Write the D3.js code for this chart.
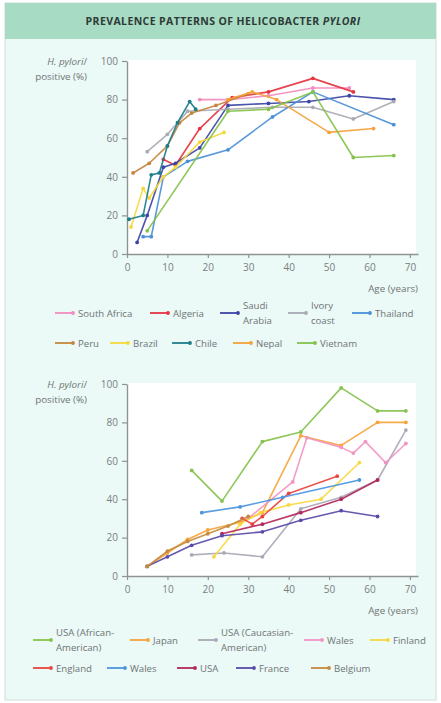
<!DOCTYPE html>
<html>
<head>
<meta charset="utf-8">
<script src="https://cdn.jsdelivr.net/npm/d3@7"></script>
<style>
  html, body { margin: 0; padding: 0; background: #ffffff; }
  svg { display: block; }
  text { font-family: "Open Sans", "Noto Sans", sans-serif; }
</style>
</head>
<body>
<svg id="chart" width="441" height="703"></svg>
<script>
// ---- Panel 1: prevalence by age, developing countries ----
const countries1 = ["South Africa", "Algeria", "Saudi Arabia", "Ivory coast", "Thailand",
                    "Peru", "Brazil", "Chile", "Nepal", "Vietnam"];
const southAfrica = [[18, 80], [25, 80], [35, 82], [46, 86], [55, 86]];
const algeria     = [[9, 49], [12, 46], [18, 65], [26, 81], [35, 84], [46, 91], [56, 84]];
const saudiArabia = [[2.5, 6], [5, 20], [9, 45], [12, 47], [18, 55], [25, 77], [35, 78], [45, 79], [55, 82], [66, 80]];
const ivoryCoast  = [[5, 53], [10, 62], [15, 74], [25, 75], [36, 76], [46, 76], [56, 70], [66, 79]];
const thailand    = [[4, 9], [6, 9], [9, 40], [15, 48], [25, 54], [36, 71], [46, 84], [66, 67]];
const peru        = [[1.5, 42], [5.5, 47], [10, 56], [13, 68], [16, 73], [22, 77], [30, 83]];
const brazil      = [[1, 14], [4, 34], [5.5, 29], [9, 40], [12, 45], [18, 58], [24, 63]];
const chile       = [[0.5, 18], [4, 20], [6, 41], [8, 42], [10, 56], [12.5, 68], [15.5, 79], [17, 75]];
const nepal       = [[25, 80], [31, 84], [37, 80], [50, 63], [61, 65]];
const vietnam     = [[5, 12], [25, 74], [35, 75], [46, 84], [56, 50], [66, 51]];

// ---- Panel 2: prevalence by age, developed countries ----
const countries2 = ["USA (African-American)", "Japan", "USA (Caucasian-American)", "Wales", "Finland",
                    "England", "Wales", "USA", "France", "Belgium"];
const usaAfrican   = [[16, 55], [23.5, 39], [33.5, 70], [43, 75], [53, 98], [62, 86], [69, 86]];
const japan        = [[5, 5], [10, 12], [15, 19], [20, 24], [28, 28], [33.5, 33], [43, 73], [53, 68], [62, 80], [69, 80]];
const usaCaucasian = [[16, 11], [24, 12], [33.5, 10], [43, 35], [53, 41], [62, 50], [69, 76]];
const walesA       = [[30, 30], [41, 49], [44.5, 72], [53, 67], [56, 64], [59, 70], [64, 59], [69, 69]];
const finland      = [[21.5, 10], [28, 27], [33, 33], [40, 37], [48, 40], [57.5, 59]];
const england      = [[28.5, 30], [31, 27], [33.5, 31], [40, 43], [52, 52]];
const walesB       = [[18.5, 33], [28, 36], [38.5, 41], [57.5, 50]];
const usa          = [[23.5, 22], [33.5, 27], [43, 33], [53, 40], [62, 50]];
const france       = [[5, 5], [10, 10], [16, 16], [23.5, 21], [33.5, 23], [43, 29], [53, 34], [62, 31]];
const belgium      = [[5, 5], [10, 13], [15, 18], [20, 22], [25, 26], [30, 31]];

// Axis ticks
const ageTicks = [0, 10, 20, 30, 40, 50, 60, 70];
const pctTicks = [0, 20, 40, 60, 80, 100];

// Series styling
const colors1 = ["#f28cbc", "#e5343f", "#3c45a6", "#a9a9b3", "#4a8fd8",
                 "#c4863e", "#f6d83a", "#1d7d8a", "#f5a23a", "#84c24a"];
const colors2 = ["#86c24c", "#f5a33a", "#aaa8b6", "#f294c2", "#f8d83c",
                 "#e9443f", "#4d95dd", "#b3285c", "#5a4aa8", "#c68a3e"];
const series1 = [southAfrica, algeria, saudiArabia, ivoryCoast, thailand, peru, brazil, chile, nepal, vietnam];
const series2 = [usaAfrican, japan, usaCaucasian, walesA, finland, england, walesB, usa, france, belgium];

const svg = d3.select("#chart");
const textGrey = "#6f7575";

// Panel background and header band
svg.append("rect").attr("x", 5).attr("y", 3).attr("width", 431).attr("height", 697)
  .attr("fill", "#ebf9f7").attr("stroke", "#cfdcdb").attr("stroke-width", 1);
svg.append("rect").attr("x", 5).attr("y", 3).attr("width", 431).attr("height", 36)
  .attr("fill", "#a7dbc3");
const title = svg.append("text").attr("x", 223).attr("y", 25).attr("text-anchor", "middle")
  .attr("font-size", 10.5).attr("font-weight", 700).attr("letter-spacing", 0.4).attr("fill", "#2e3a36");
title.append("tspan").text("PREVALENCE PATTERNS OF HELICOBACTER ");
title.append("tspan").attr("font-style", "italic").text("PYLORI");

function drawPanel(opts) {
  const x = d3.scaleLinear().domain([0, 72]).range([127, 418]);
  const y = d3.scaleLinear().domain([0, 100]).range([opts.bottom, opts.top]);
  const g = svg.append("g");

  g.append("rect").attr("x", x(0)).attr("y", y(100) - 1)
    .attr("width", x(71.5) - x(0)).attr("height", y(0) - y(100) + 1).attr("fill", "#ffffff");

  const xAxis = g.append("g").attr("transform", `translate(0,${y(0)})`)
    .call(d3.axisBottom(x).tickValues(ageTicks).tickSize(4).tickPadding(6).tickSizeOuter(0));
  const yAxis = g.append("g").attr("transform", `translate(${x(0)},0)`)
    .call(d3.axisLeft(y).tickValues(pctTicks).tickSize(5).tickPadding(4).tickSizeOuter(0));
  [xAxis, yAxis].forEach(a => {
    a.select(".domain").attr("stroke", "#8e9494").attr("stroke-width", 1.4);
    a.selectAll(".tick line").attr("stroke", "#8e9494").attr("stroke-width", 1.2);
    a.selectAll(".tick text").attr("fill", "#7a8080").attr("font-size", 10)
      .attr("font-family", "Open Sans, sans-serif");
  });

  const yt = g.append("text").attr("text-anchor", "end").attr("font-size", 9.8).attr("fill", textGrey);
  yt.append("tspan").attr("x", 87).attr("y", opts.top + 4).attr("font-style", "italic").text("H. pylori");
  yt.append("tspan").text("/");
  yt.append("tspan").attr("x", 87).attr("y", opts.top + 19).text("positive (%)");

  g.append("text").attr("x", 418).attr("y", opts.bottom + 38).attr("text-anchor", "end")
    .attr("font-size", 9.8).attr("fill", textGrey).text("Age (years)");

  const line = d3.line().x(d => x(d[0])).y(d => y(d[1]));
  opts.series.forEach((s, i) => {
    const c = opts.colors[i];
    g.append("path").datum(s).attr("d", line).attr("fill", "none")
      .attr("stroke", c).attr("stroke-width", 1.6).attr("stroke-linejoin", "round").attr("opacity", 0.92);
    g.selectAll(null).data(s).enter().append("circle")
      .attr("cx", d => x(d[0])).attr("cy", d => y(d[1])).attr("r", 1.9).attr("fill", c);
  });

  // Legend
  opts.legend.forEach((item, i) => {
    const c = opts.colors[i];
    const lg = g.append("g");
    lg.append("line").attr("x1", item.x).attr("x2", item.x + 19).attr("y1", item.y).attr("y2", item.y)
      .attr("stroke", c).attr("stroke-width", 1.8);
    lg.append("circle").attr("cx", item.x + 18).attr("cy", item.y).attr("r", 1.9).attr("fill", c);
    const lines = item.label;
    const t = lg.append("text").attr("font-size", 9.6).attr("fill", textGrey);
    lines.forEach((ln, k) => {
      t.append("tspan").attr("x", item.x + 23)
        .attr("y", item.y + 3.5 + (k - (lines.length - 1) / 2) * 15).text(ln);
    });
  });
}

drawPanel({
  top: 61, bottom: 254, series: series1, colors: colors1,
  legend: [
    { x: 55,  y: 313, label: [countries1[0]] },
    { x: 150, y: 313, label: [countries1[1]] },
    { x: 220, y: 313, label: ["Saudi", "Arabia"] },
    { x: 288, y: 313, label: ["Ivory", "coast"] },
    { x: 352, y: 313, label: [countries1[4]] },
    { x: 55,  y: 343, label: [countries1[5]] },
    { x: 110, y: 343, label: [countries1[6]] },
    { x: 172, y: 343, label: [countries1[7]] },
    { x: 233, y: 343, label: [countries1[8]] },
    { x: 297, y: 343, label: [countries1[9]] }
  ]
});

drawPanel({
  top: 384, bottom: 576, series: series2, colors: colors2,
  legend: [
    { x: 33,  y: 640, label: ["USA (African-", "American)"] },
    { x: 130, y: 640, label: [countries2[1]] },
    { x: 198, y: 640, label: ["USA (Caucasian-", "American)"] },
    { x: 304, y: 640, label: [countries2[3]] },
    { x: 370, y: 640, label: [countries2[4]] },
    { x: 33,  y: 668, label: [countries2[5]] },
    { x: 107, y: 668, label: [countries2[6]] },
    { x: 177, y: 668, label: [countries2[7]] },
    { x: 236, y: 668, label: [countries2[8]] },
    { x: 311, y: 668, label: [countries2[9]] }
  ]
});
</script>
</body>
</html>
